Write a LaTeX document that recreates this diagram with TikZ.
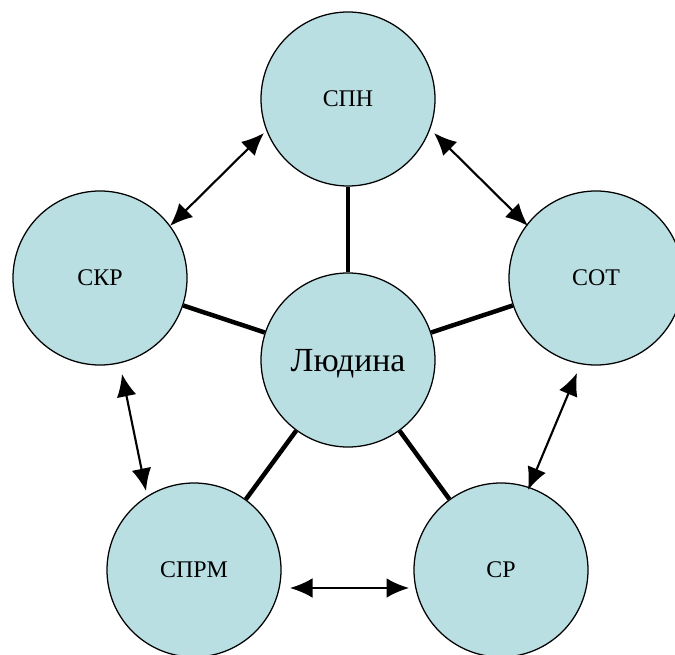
\documentclass[tikz,border=0pt]{standalone}
\usepackage{fontspec}
\setmainfont{Liberation Serif}
\usetikzlibrary{arrows.meta}
\definecolor{circfill}{RGB}{186,223,227}
\begin{document}
\begin{tikzpicture}[x=0.025cm,y=-0.025cm,
  bubble/.style={circle,draw=black,line width=0.9pt,fill=circfill,minimum size=174*0.025cm,inner sep=0pt,font=\fontsize{17}{20}\selectfont},
  spoke/.style={line width=3.2pt},
  link/.style={line width=1.5pt,{Latex[length=16pt,width=14pt]}-{Latex[length=16pt,width=14pt]}}]
\useasboundingbox (0,0) rectangle (675,655);
\node[bubble,font=\fontsize{24}{28}\selectfont,text depth=0pt] (c) at (348,360) {Людина};
\node[bubble] (spn) at (348,99) {СПН};
\node[bubble] (skr) at (100,278) {СКР};
\node[bubble] (sot) at (596,278) {СОТ};
\node[bubble] (sprm) at (194,570) {СПРМ};
\node[bubble] (sr) at (501,570) {СР};
\draw[spoke] (c) -- (spn);
\draw[spoke] (c) -- (skr);
\draw[spoke] (c) -- (sot);
\draw[spoke] (c) -- (sprm);
\draw[spoke] (c) -- (sr);
\coordinate (a1) at (264,133); \coordinate (a2) at (170,226);
\coordinate (b1) at (434,133); \coordinate (b2) at (528,226);
\coordinate (d1) at (122,374); \coordinate (d2) at (146,491);
\coordinate (e1) at (577,373); \coordinate (e2) at (528,490);
\coordinate (f1) at (290,588); \coordinate (f2) at (409,588);
\draw[link] (a1) -- (a2);
\draw[link] (b1) -- (b2);
\draw[link] (d1) -- (d2);
\draw[link] (e1) -- (e2);
\draw[link] (f1) -- (f2);
\end{tikzpicture}
\end{document}
